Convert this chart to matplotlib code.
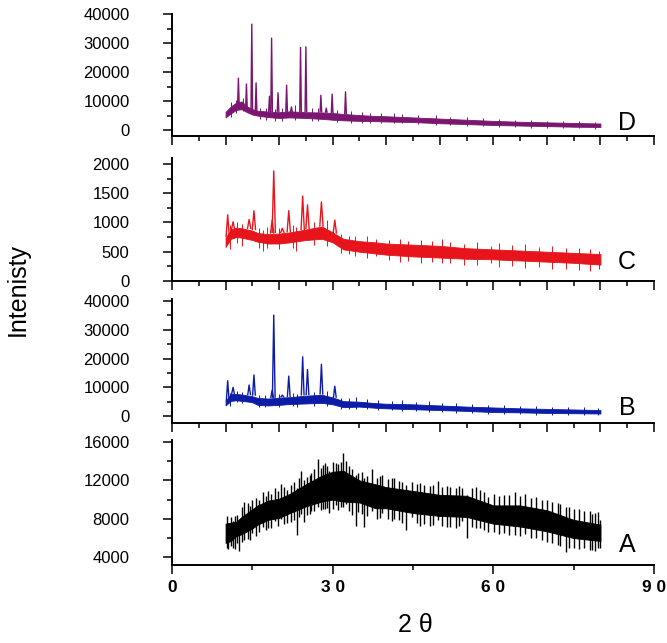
import numpy as np
import matplotlib
matplotlib.use("Agg")
import matplotlib.pyplot as plt
from matplotlib.ticker import MultipleLocator

plt.rcParams['font.family'] = ['Liberation Sans', 'DejaVu Sans']

env_x = [10, 11, 12, 13, 14, 15, 16, 18, 20, 22, 25, 28, 30, 32, 35, 38, 40,
         45, 50, 55, 60, 65, 70, 75, 80]

# sample D (purple)
d_lo = [4400, 5800, 7000, 7200, 6200, 5400, 5000, 4500, 4200, 4400, 4200, 3900, 3600,
        3400, 3200, 3100, 3000, 2800, 2400, 2100, 1800, 1600, 1400, 1200, 1100]
d_hi = [6300, 8200, 9500, 9900, 8200, 7200, 6700, 6400, 6200, 6500, 6200, 6100, 5900,
        5600, 5200, 4900, 4800, 4400, 4000, 3600, 3200, 2900, 2700, 2500, 2300]
d_peaks = [12.4, 13.9, 14.9, 15.7, 18.2, 18.6, 19.8, 21.4, 22.3, 24.0, 25.0, 27.8, 28.8, 29.9, 32.4]
d_base = [8500, 7500, 7000, 6500, 6500, 6500, 6500, 6500, 6500, 6500, 6500, 6300, 6200, 6100, 5800]
d_top = [17900, 15900, 36500, 16300, 11700, 31700, 12900, 15500, 8000, 28500, 28700, 12000, 7600, 12400, 13200]
d_spike_x = [11.0, 12.0, 13.2, 16.5, 17.5, 19.2, 20.5, 23.0, 26.2, 27.2, 30.8, 33.5, 35.5, 37.0,
             39.0, 41.5, 43.0, 46.0, 49.3, 52.0, 55.0, 58.0, 61.0, 64.0, 67.0, 70.0, 73.0, 76.0, 79.0]
d_spike_lo = [4500, 6000, 6500, 4000, 3500, 3000, 3300, 3500, 3200, 3300, 2800, 2600, 2500, 2600,
              2500, 2400, 2400, 2100, 1800, 1700, 1500, 1300, 1200, 1000, 900, 800, 700, 600, 500]
d_spike_hi = [9800, 10500, 11000, 7800, 7500, 7200, 7600, 8500, 7500, 7800, 7000, 6500, 6300, 6000,
              5900, 5800, 5600, 5200, 5300, 4500, 4600, 4100, 3900, 3600, 3500, 3300, 3100, 3000, 2900]

# sample C (red)
c_lo = [580, 720, 750, 740, 720, 700, 670, 640, 640, 660, 700, 720, 660,
        540, 500, 470, 450, 420, 400, 380, 370, 350, 330, 310, 280]
c_hi = [740, 880, 910, 900, 880, 860, 820, 800, 810, 830, 880, 930, 830,
        720, 680, 660, 640, 620, 600, 560, 540, 520, 500, 480, 460]
c_peaks = [10.4, 11.4, 14.4, 15.3, 18.7, 19.0, 20.6, 21.8, 24.4, 25.3, 27.9, 30.4]
c_base = [760, 880, 900, 880, 820, 830, 830, 840, 880, 900, 940, 820]
c_top = [1130, 1010, 1050, 1200, 1040, 1880, 900, 1200, 1450, 1300, 1350, 1040]
c_spike_x = [10.8, 12.2, 13.0, 16.2, 17.0, 17.8, 20.0, 22.5, 23.2, 26.5, 29.0, 31.5, 33.0, 34.2,
             36.5, 38.0, 40.5, 42.5, 44.0, 46.5, 48.5, 50.5, 52.0, 54.5, 57.0, 59.5, 61.0, 63.5,
             66.0, 68.5, 71.0, 73.5, 76.0, 78.0, 79.7]
c_spike_lo = [550, 650, 600, 560, 520, 560, 540, 560, 520, 620, 600, 480, 460, 420,
              400, 420, 360, 330, 340, 300, 320, 300, 300, 270, 280, 300, 240, 260,
              230, 240, 200, 210, 180, 170, 200]
c_spike_hi = [950, 1000, 980, 900, 870, 930, 900, 950, 930, 1000, 1050, 800, 770, 760,
              760, 720, 700, 720, 690, 700, 680, 720, 660, 640, 660, 600, 650, 620,
              640, 580, 600, 560, 560, 540, 520]

# sample B (blue)
b_lo = [3700, 5300, 5500, 5300, 5100, 4800, 3900, 3700, 3900, 4200, 4400, 4600, 4100,
        3100, 3300, 2900, 2700, 2400, 2100, 1800, 1400, 1300, 1100, 1000, 900]
b_hi = [5300, 7700, 7700, 7500, 7200, 6900, 6300, 6100, 6400, 6600, 7100, 7400, 6500,
        5200, 5000, 4500, 4300, 4100, 3700, 3300, 3000, 2700, 2500, 2300, 2100]
b_peaks = [10.4, 11.4, 14.4, 15.3, 18.7, 19.0, 20.6, 21.8, 24.4, 25.3, 27.9, 30.4]
b_base = [5500, 7800, 7500, 7300, 6500, 6600, 6700, 6900, 7400, 7500, 7700, 6600]
b_top = [12300, 10000, 10800, 14300, 9000, 35100, 7300, 13900, 20600, 16200, 18000, 10400]
b_spike_x = [10.8, 12.2, 13.0, 16.2, 17.3, 20.0, 22.6, 23.3, 26.5, 29.0, 31.5, 33.0, 34.4, 36.5,
             38.5, 41.0, 43.0, 45.5, 48.0, 50.5, 53.0, 56.0, 59.0, 62.0, 65.0, 68.0, 71.0, 74.0,
             77.0, 79.5]
b_spike_lo = [3500, 4800, 4500, 3200, 3000, 3000, 3400, 3200, 3600, 3500, 2500, 2600, 2400, 2300,
              2200, 2000, 1900, 1700, 1500, 1400, 1200, 1100, 800, 700, 600, 500, 400, 300,
              300, 300]
b_spike_hi = [8200, 8800, 8500, 7300, 7200, 7800, 8200, 7800, 8400, 8600, 6300, 6200, 6500, 5900,
              5500, 5400, 5600, 5000, 5200, 4600, 4700, 4200, 4000, 3700, 3600, 3400, 3300, 3100,
              3000, 2900]

# sample A (black, amorphous)
a_lo = [5500, 5700, 6200, 6400, 6700, 7000, 7400, 7900, 8100, 8600, 9300, 9800, 10000,
        9800, 9700, 9100, 9100, 8600, 8300, 8200, 7500, 7200, 6700, 6000, 5700]
a_hi = [7500, 7600, 7700, 8200, 8600, 9000, 9400, 9900, 10100, 10600, 11600, 12500, 12900,
        13000, 12000, 11600, 11300, 10900, 10500, 10400, 9400, 9400, 8900, 7900, 7400]
a_spike_x = [10.2, 10.5, 11.0, 11.4, 11.8, 12.2, 12.6, 13.0, 13.5, 14.2, 14.6, 15.0, 15.6, 16.3,
             16.9, 17.5, 18.0, 18.5, 19.2, 19.8, 20.3, 21.0, 21.5, 22.2, 22.8, 23.3, 23.7, 24.0,
             24.7, 25.3, 25.7, 26.0, 26.6, 27.3, 27.8, 28.2, 28.6, 29.0, 29.4, 30.0, 30.6, 31.0,
             31.5, 32.0, 32.5, 33.0, 33.6, 34.3, 34.8, 35.4, 35.9, 36.5, 37.4, 38.2, 38.8, 39.3,
             40.3, 41.0, 41.5, 42.3, 43.0, 43.6, 44.9, 45.8, 46.4, 47.0, 48.2, 48.8, 49.7, 50.5,
             51.3, 52.0, 53.0, 53.6, 54.2, 55.0, 56.0, 56.8, 57.5, 58.3, 59.0, 60.2, 61.0, 62.0,
             63.0, 64.0, 65.0, 66.0, 67.0, 68.0, 69.0, 70.0, 71.0, 72.0, 72.5, 73.5, 74.2, 75.0,
             76.0, 77.0, 78.0, 78.5, 79.0, 79.5, 80.0]
a_spike_lo = [5000, 4900, 5200, 5000, 4900, 5500, 4700, 5600, 5800, 5900, 5800, 6500, 6200, 6600,
              7200, 6800, 7100, 7000, 7800, 7300, 8000, 7500, 7600, 7700, 7900, 6300, 8200, 8500,
              7700, 8400, 8500, 8800, 8800, 9200, 8900, 9000, 9000, 9100, 8600, 9000, 9400, 8900,
              9200, 9200, 9500, 8800, 8400, 7300, 8700, 8500, 7200, 8300, 8800, 8000, 8100, 8600,
              8000, 7800, 8000, 7900, 7600, 6800, 8200, 7600, 7300, 7500, 7300, 7400, 7900, 7300,
              7200, 7200, 7100, 7300, 7800, 6000, 7200, 7000, 7000, 6800, 6600, 6600, 6400, 6500,
              6300, 6300, 6200, 6400, 6000, 6000, 5800, 5600, 5500, 5300, 5200, 4600, 5000, 5000,
              4900, 5000, 4800, 4800, 4700, 5000, 5000]
a_spike_hi = [8300, 7600, 8200, 7800, 8300, 8400, 7500, 9200, 9800, 9600, 9300, 10000, 10200, 10000,
              10800, 10400, 10900, 10600, 11200, 10900, 11600, 11300, 11000, 11500, 11800, 11200, 12200, 13000,
              12000, 12400, 12600, 12800, 13200, 14200, 13300, 13600, 13800, 13500, 13000, 13900, 13800, 13700,
              13900, 14800, 14000, 13500, 13200, 12600, 12800, 12900, 12300, 12500, 13200, 12300, 12500, 12600,
              12100, 12300, 12200, 11900, 11800, 11500, 11800, 11600, 11700, 11500, 11400, 11500, 11900, 11300,
              11400, 11300, 11200, 11400, 11200, 10500, 11200, 11300, 11000, 10800, 10300, 10600, 10400, 10500,
              10500, 10800, 10400, 10600, 10200, 10300, 10000, 10000, 9800, 9700, 9500, 9200, 9200, 9000,
              9000, 8800, 8800, 8500, 8600, 8700, 7900]

fig = plt.figure(figsize=(6.67, 6.43), dpi=100)

W = 667.0
H = 643.0
left = 172 / W
width = 482 / W


def make_axes(top_px, bot_px):
    ax = fig.add_axes([left, 1 - bot_px / H, width, (bot_px - top_px) / H])
    for s in ['top', 'right']:
        ax.spines[s].set_visible(False)
    for s in ['left', 'bottom']:
        ax.spines[s].set_linewidth(1.4)
    ax.set_xlim(0, 90)
    ax.tick_params(which='major', direction='out', length=6.5, width=1.1, labelsize=12, pad=24)
    ax.tick_params(which='minor', direction='out', length=3.6, width=1.1)
    return ax


def draw_crystal(ax, lo, hi, px, pb, pt, sx, slo, shi, color, hw):
    ax.fill_between(env_x, lo, hi, color=color, lw=0.6)
    ax.vlines(sx, slo, shi, color=color, lw=0.7)
    for x, b, t in zip(px, pb, pt):
        ax.plot([x - hw, x, x + hw], [b, t, b], color=color, lw=1.0)


axD = make_axes(14, 136)
draw_crystal(axD, d_lo, d_hi, d_peaks, d_base, d_top, d_spike_x, d_spike_lo, d_spike_hi, '#7a1670', 0.15)
axD.set_ylim(-2000, 40000)
axD.yaxis.set_major_locator(MultipleLocator(10000))
axD.yaxis.set_minor_locator(MultipleLocator(5000))

axC = make_axes(158, 281)
draw_crystal(axC, c_lo, c_hi, c_peaks, c_base, c_top, c_spike_x, c_spike_lo, c_spike_hi, '#e8141c', 0.3)
axC.set_ylim(0, 2100)
axC.yaxis.set_major_locator(MultipleLocator(500))
axC.yaxis.set_minor_locator(MultipleLocator(250))

axB = make_axes(299, 423)
draw_crystal(axB, b_lo, b_hi, b_peaks, b_base, b_top, b_spike_x, b_spike_lo, b_spike_hi, '#0c1ca6', 0.25)
axB.set_ylim(-2400, 40700)
axB.yaxis.set_major_locator(MultipleLocator(10000))
axB.yaxis.set_minor_locator(MultipleLocator(5000))

axA = make_axes(440, 565)
axA.fill_between(env_x, a_lo, a_hi, color='black', lw=0.6)
axA.vlines(a_spike_x, a_spike_lo, a_spike_hi, color='black', lw=1.0)
axA.set_ylim(3200, 16200)
axA.yaxis.set_major_locator(MultipleLocator(4000))
axA.yaxis.set_minor_locator(MultipleLocator(2000))

for ax in [axD, axC, axB]:
    ax.xaxis.set_major_locator(MultipleLocator(10))
    ax.xaxis.set_minor_locator(MultipleLocator(5))
    ax.set_xticklabels([])

axA.set_xticks([0, 30, 60, 90])
axA.set_xticklabels(['0', '3 0', '6 0', '9 0'], fontweight='bold', fontsize=12.5)
axA.xaxis.set_minor_locator(MultipleLocator(15))
axA.tick_params(axis='x', pad=4)

for ax, letter, ypx in [(axD, 'D', 123), (axC, 'C', 262), (axB, 'B', 408), (axA, 'A', 545)]:
    fig.text(627 / W, 1 - ypx / H, letter, fontsize=18, ha='center', va='center')

fig.text(18 / W, 1 - 290 / H, 'Intenisty', fontsize=18, rotation=90, ha='center', va='center')
fig.text(415 / W, 1 - 625 / H, '2 θ', fontsize=18, ha='center', va='center')

fig.savefig('out.png', dpi=100)
